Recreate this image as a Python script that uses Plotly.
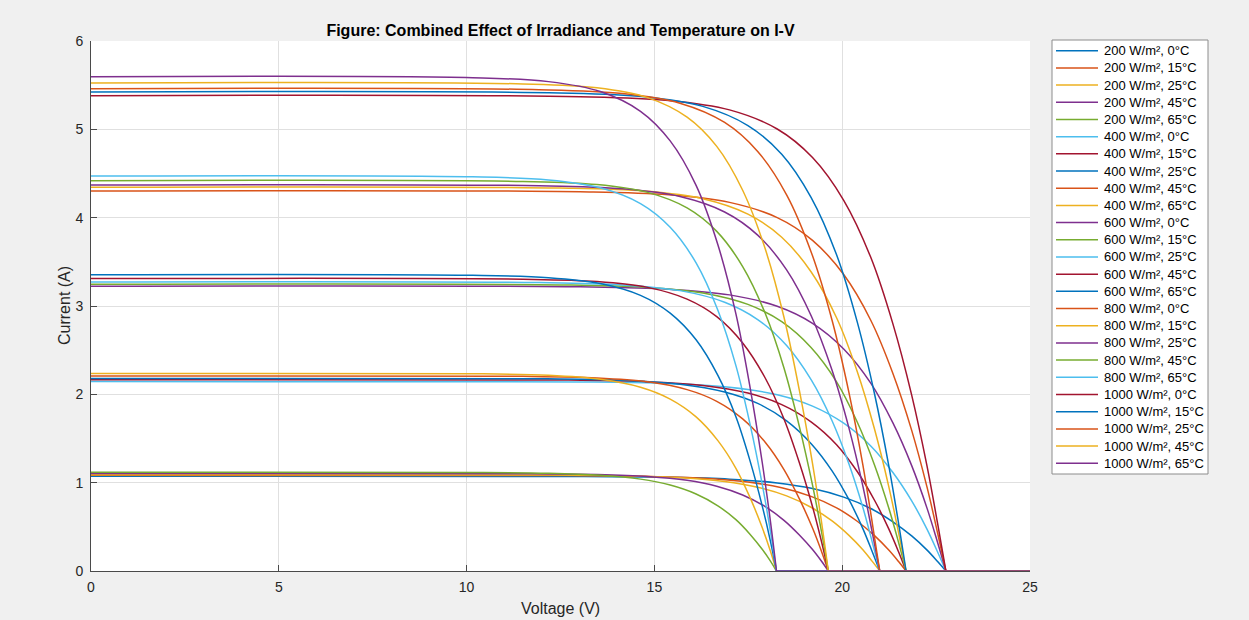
import plotly.graph_objects as go

# ---------------- data ----------------
irradiance_levels = [200, 400, 600, 800, 1000]          # W/m²
temperature_levels = [0, 15, 25, 45, 65]                 # °C

# voltage samples (V) for each temperature; after None: the zero-current tail up to 25 V
voltage_0C = [0, 13.02, 15.38, 17.00, 18.27, 19.21, 20.04, 20.76, 21.35, 21.85, 22.26, 22.54, 22.76, None, 22.76, 25]
voltage_15C = [0, 12.48, 14.74, 16.29, 17.49, 18.39, 19.17, 19.85, 20.40, 20.86, 21.24, 21.50, 21.70, None, 21.70, 25]
voltage_25C = [0, 11.93, 14.15, 15.68, 16.87, 17.75, 18.52, 19.18, 19.73, 20.18, 20.55, 20.80, 21.00, None, 21.00, 25]
voltage_45C = [0, 11.50, 13.47, 14.82, 15.87, 16.66, 17.35, 17.95, 18.45, 18.86, 19.21, 19.45, 19.63, None, 19.63, 25]
voltage_65C = [0, 10.16, 12.18, 13.56, 14.63, 15.42, 16.11, 16.69, 17.17, 17.55, 17.87, 18.09, 18.25, None, 18.25, 25]

# current samples (A) per irradiance / temperature
current_200_0C = [1.072, 1.070, 1.061, 1.040, 0.997, 0.933, 0.836, 0.708, 0.557, 0.397, 0.236, 0.107, 0, None, 0, 0]
current_200_15C = [1.083, 1.081, 1.072, 1.051, 1.007, 0.942, 0.845, 0.715, 0.563, 0.401, 0.238, 0.108, 0, None, 0, 0]
current_200_25C = [1.090, 1.088, 1.079, 1.057, 1.014, 0.948, 0.850, 0.719, 0.567, 0.403, 0.240, 0.109, 0, None, 0, 0]
current_200_45C = [1.104, 1.102, 1.093, 1.071, 1.027, 0.960, 0.861, 0.729, 0.574, 0.408, 0.243, 0.110, 0, None, 0, 0]
current_200_65C = [1.118, 1.116, 1.107, 1.084, 1.040, 0.973, 0.872, 0.738, 0.581, 0.414, 0.246, 0.112, 0, None, 0, 0]

current_400_0C = [2.145, 2.141, 2.124, 2.081, 1.995, 1.866, 1.673, 1.416, 1.115, 0.794, 0.472, 0.215, 0, None, 0, 0]
current_400_15C = [2.166, 2.162, 2.144, 2.101, 2.014, 1.884, 1.689, 1.430, 1.126, 0.801, 0.477, 0.217, 0, None, 0, 0]
current_400_25C = [2.180, 2.176, 2.158, 2.115, 2.027, 1.897, 1.700, 1.439, 1.134, 0.807, 0.480, 0.218, 0, None, 0, 0]
current_400_45C = [2.208, 2.204, 2.186, 2.142, 2.053, 1.921, 1.722, 1.457, 1.148, 0.817, 0.486, 0.221, 0, None, 0, 0]
current_400_65C = [2.237, 2.233, 2.215, 2.170, 2.080, 1.946, 1.745, 1.476, 1.163, 0.828, 0.492, 0.224, 0, None, 0, 0]

current_600_0C = [3.223, 3.217, 3.191, 3.126, 2.997, 2.804, 2.514, 2.127, 1.676, 1.193, 0.709, 0.322, 0, None, 0, 0]
current_600_15C = [3.245, 3.239, 3.213, 3.148, 3.018, 2.823, 2.531, 2.142, 1.687, 1.201, 0.714, 0.325, 0, None, 0, 0]
current_600_25C = [3.272, 3.265, 3.239, 3.174, 3.043, 2.847, 2.552, 2.160, 1.701, 1.211, 0.720, 0.327, 0, None, 0, 0]
current_600_45C = [3.310, 3.303, 3.277, 3.211, 3.078, 2.880, 2.582, 2.185, 1.721, 1.225, 0.728, 0.331, 0, None, 0, 0]
current_600_65C = [3.355, 3.348, 3.321, 3.254, 3.120, 2.919, 2.617, 2.214, 1.745, 1.241, 0.738, 0.336, 0, None, 0, 0]

current_800_0C = [4.302, 4.293, 4.259, 4.173, 4.001, 3.743, 3.356, 2.839, 2.237, 1.592, 0.946, 0.430, 0, None, 0, 0]
current_800_15C = [4.344, 4.335, 4.301, 4.214, 4.040, 3.779, 3.388, 2.867, 2.259, 1.607, 0.956, 0.434, 0, None, 0, 0]
current_800_25C = [4.370, 4.361, 4.326, 4.239, 4.064, 3.802, 3.409, 2.884, 2.272, 1.617, 0.961, 0.437, 0, None, 0, 0]
current_800_45C = [4.419, 4.410, 4.375, 4.286, 4.110, 3.845, 3.447, 2.917, 2.298, 1.635, 0.972, 0.442, 0, None, 0, 0]
current_800_65C = [4.472, 4.463, 4.427, 4.338, 4.159, 3.891, 3.488, 2.952, 2.325, 1.655, 0.984, 0.447, 0, None, 0, 0]

current_1000_0C = [5.381, 5.370, 5.327, 5.220, 5.004, 4.681, 4.197, 3.551, 2.798, 1.991, 1.184, 0.538, 0, None, 0, 0]
current_1000_15C = [5.423, 5.412, 5.369, 5.260, 5.043, 4.718, 4.230, 3.579, 2.820, 2.007, 1.193, 0.542, 0, None, 0, 0]
current_1000_25C = [5.460, 5.449, 5.405, 5.296, 5.078, 4.750, 4.259, 3.604, 2.839, 2.020, 1.201, 0.546, 0, None, 0, 0]
current_1000_45C = [5.525, 5.514, 5.470, 5.359, 5.138, 4.807, 4.310, 3.647, 2.873, 2.044, 1.216, 0.553, 0, None, 0, 0]
current_1000_65C = [5.596, 5.585, 5.540, 5.428, 5.204, 4.869, 4.365, 3.693, 2.910, 2.071, 1.231, 0.560, 0, None, 0, 0]

x_ticks = [0, 5, 10, 15, 20, 25]
y_ticks = [0, 1, 2, 3, 4, 5, 6]

# ---------------- assemble ----------------
voltages = {0: voltage_0C, 15: voltage_15C, 25: voltage_25C, 45: voltage_45C, 65: voltage_65C}
currents = {
    (200, 0): current_200_0C, (200, 15): current_200_15C, (200, 25): current_200_25C,
    (200, 45): current_200_45C, (200, 65): current_200_65C,
    (400, 0): current_400_0C, (400, 15): current_400_15C, (400, 25): current_400_25C,
    (400, 45): current_400_45C, (400, 65): current_400_65C,
    (600, 0): current_600_0C, (600, 15): current_600_15C, (600, 25): current_600_25C,
    (600, 45): current_600_45C, (600, 65): current_600_65C,
    (800, 0): current_800_0C, (800, 15): current_800_15C, (800, 25): current_800_25C,
    (800, 45): current_800_45C, (800, 65): current_800_65C,
    (1000, 0): current_1000_0C, (1000, 15): current_1000_15C, (1000, 25): current_1000_25C,
    (1000, 45): current_1000_45C, (1000, 65): current_1000_65C,
}

colors = ['#0072BD', '#D95319', '#EDB120', '#7E2F8E', '#77AC30', '#4DBEEE', '#A2142F']
FONT = 'Liberation Sans, Arial, Helvetica, sans-serif'
TXT = '#262626'

W, H = 1249, 620
L, R, T, B = 91, 1030, 41, 571


def px2x(px):
    return (px - L) / (R - L)


def py2y(py):
    return (B - py) / (B - T)


fig = go.Figure()
labels = []
k = 0
for G in irradiance_levels:
    for Tc in temperature_levels:
        label = f'{G} W/m², {Tc}°C'
        col = colors[k % len(colors)]
        labels.append((label, col))
        fig.add_trace(go.Scatter(
            x=voltages[Tc], y=currents[(G, Tc)], mode='lines', name=label,
            line=dict(color=col, width=1.5, shape='spline', smoothing=1),
            connectgaps=False, showlegend=False, hoverinfo='name+x+y'))
        k += 1

axis_common = dict(
    showgrid=True, gridcolor='#E0E0E0', gridwidth=1,
    showline=True, linecolor='#4A4A4A', linewidth=1,
    ticks='inside', ticklen=6, tickcolor='#4A4A4A', tickwidth=1,
    zeroline=False, tickfont=dict(family=FONT, size=14, color=TXT),
)
fig.update_xaxes(range=[0, 25], tickvals=x_ticks, ticklabelstandoff=3, **axis_common)
fig.update_yaxes(range=[0, 6], tickvals=y_ticks, ticklabelstandoff=4, **axis_common)

shapes = []
annotations = []

# custom legend box
lx0, lx1, ly0, ly1 = 1052, 1208, 40, 474
shapes.append(dict(type='rect', xref='paper', yref='paper',
                   x0=px2x(lx0), x1=px2x(lx1), y0=py2y(ly1), y1=py2y(ly0),
                   fillcolor='white', line=dict(color='#8C8C8C', width=1), layer='above'))
row0, dy = 50.7, 17.19
for i, (label, col) in enumerate(labels):
    yy = py2y(row0 + i * dy)
    shapes.append(dict(type='line', xref='paper', yref='paper',
                       x0=px2x(1056), x1=px2x(1098), y0=yy, y1=yy,
                       line=dict(color=col, width=1.5), layer='above'))
    annotations.append(dict(xref='paper', yref='paper', x=px2x(1102), y=yy,
                            text=label, showarrow=False, xanchor='left', yanchor='middle',
                            font=dict(family=FONT, size=13, color='#000000')))

# axis titles
annotations.append(dict(xref='paper', yref='paper', x=0.5, y=py2y(608), text='Voltage (V)',
                        showarrow=False, xanchor='center', yanchor='middle',
                        font=dict(family=FONT, size=16, color=TXT)))
annotations.append(dict(xref='paper', yref='paper', x=px2x(64), y=0.5, text='Current (A)',
                        showarrow=False, xanchor='center', yanchor='middle', textangle=-90,
                        font=dict(family=FONT, size=16, color=TXT)))

fig.update_layout(
    width=W, height=H,
    margin=dict(l=L, r=W - R, t=T, b=H - B, pad=0),
    paper_bgcolor='#F0F0F0', plot_bgcolor='white',
    title=dict(text='<b>Figure: Combined Effect of Irradiance and Temperature on I-V</b>',
               x=0.5, xref='paper', xanchor='center',
               y=1 - 30 / H, yref='container', yanchor='middle',
               font=dict(family=FONT, size=16, color='#000000')),
    shapes=shapes, annotations=annotations, showlegend=False,
)

fig.write_html('out.html')
